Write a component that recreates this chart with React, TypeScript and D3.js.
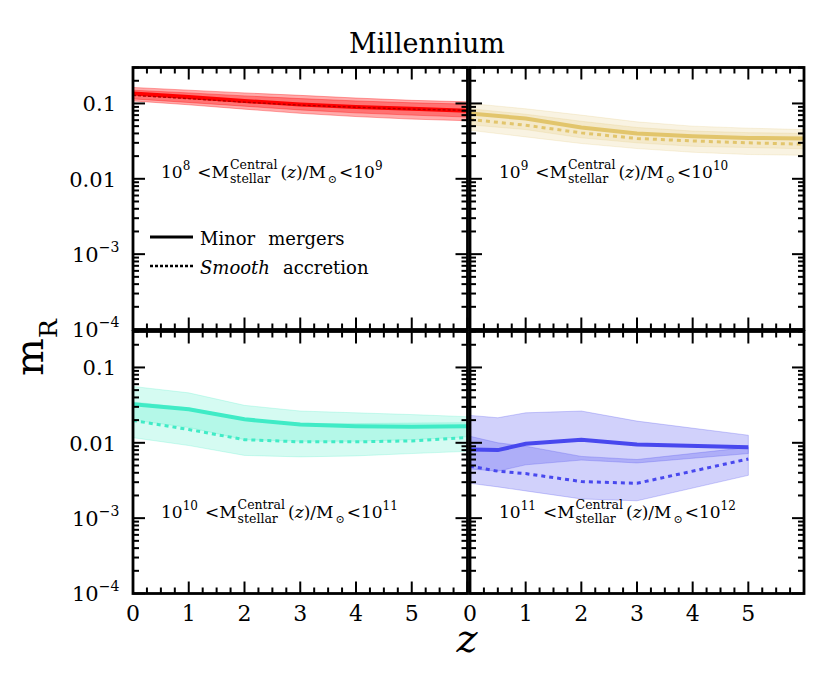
import React, { useEffect, useRef } from 'react';
import * as d3 from 'd3';

// redshift nodes
const zSteps = [0, 1, 2, 3, 4, 5, 6];
const zBlue = [0, 0.5, 1, 2, 3, 5];

// 10^8 - 10^9 (red)
const redMinor = [0.136, 0.122, 0.108, 0.097, 0.09, 0.085, 0.08];
const redSmooth = [0.128, 0.116, 0.104, 0.095, 0.089, 0.084, 0.081];
const redMinorHi = [0.163, 0.15, 0.138, 0.128, 0.118, 0.11, 0.105];
const redMinorLo = [0.115, 0.103, 0.092, 0.082, 0.075, 0.07, 0.066];
const redSmoothHi = [0.15, 0.138, 0.126, 0.116, 0.108, 0.102, 0.098];
const redSmoothLo = [0.108, 0.096, 0.084, 0.074, 0.067, 0.062, 0.059];

// 10^9 - 10^10 (yellow)
const yelMinor = [0.0736, 0.0632, 0.048, 0.04, 0.0367, 0.0349, 0.0343];
const yelSmooth = [0.0613, 0.0514, 0.0407, 0.0343, 0.0318, 0.03, 0.0288];
const yelMinorHi = [0.1, 0.085, 0.07, 0.057, 0.05, 0.047, 0.045];
const yelMinorLo = [0.052, 0.045, 0.035, 0.03, 0.027, 0.026, 0.025];
const yelSmoothHi = [0.085, 0.072, 0.058, 0.048, 0.043, 0.041, 0.04];
const yelSmoothLo = [0.044, 0.036, 0.0294, 0.0252, 0.0225, 0.021, 0.0205];

// 10^10 - 10^11 (cyan)
const cyanMinor = [0.0324, 0.0278, 0.0205, 0.0175, 0.0166, 0.0163, 0.0166];
const cyanSmooth = [0.0198, 0.015, 0.011, 0.0103, 0.0103, 0.0106, 0.0118];
const cyanMinorHi = [0.056, 0.046, 0.0314, 0.0264, 0.025, 0.0237, 0.0222];
const cyanMinorLo = [0.02, 0.016, 0.011, 0.0105, 0.0105, 0.011, 0.012];
const cyanSmoothHi = [0.0348, 0.029, 0.0209, 0.018, 0.018, 0.0183, 0.0185];
const cyanSmoothLo = [0.0117, 0.0092, 0.0068, 0.0065, 0.0067, 0.0072, 0.0077];

// 10^11 - 10^12 (blue)
const blueMinor = [0.00815, 0.008, 0.0097, 0.011, 0.0095, 0.0087];
const blueSmooth = [0.0049, 0.0042, 0.0039, 0.00306, 0.0029, 0.0061];
const blueMinorHi = [0.0231, 0.0215, 0.025, 0.0264, 0.0194, 0.0126];
const blueMinorLo = [0.0045, 0.0042, 0.0051, 0.0059, 0.0054, 0.0072];
const blueSmoothHi = [0.0122, 0.01, 0.009, 0.0066, 0.006, 0.0087];
const blueSmoothLo = [0.0029, 0.0026, 0.0023, 0.0018, 0.0017, 0.0037];

const massExps = [['8', '9'], ['9', '10'], ['10', '11'], ['11', '12']];
const xTickValues = [0, 1, 2, 3, 4, 5];
const yTickValues = [0.1, 0.01, 1e-3, 1e-4];
const yTickText = ['0.1', '0.01', '10', '10'];
const yTickExp = ['', '', '−3', '−4'];

const FONT = "'DejaVu Serif', 'Liberation Serif', serif";

type Piece = { t: string; size: number; dy?: number; italic?: boolean; gap?: number; stack?: boolean };

function richText(g: any, x: number, y: number, pieces: Piece[]) {
    let cx = x;
    let stackX: number | null = null;
    let stackW = 0;
    pieces.forEach(p => {
        const px = stackX !== null ? stackX : cx + (p.gap || 0);
        const node = g.append('text')
            .attr('x', px)
            .attr('y', y + (p.dy || 0))
            .style('font-family', FONT)
            .style('font-size', `${p.size}px`)
            .style('font-style', p.italic ? 'italic' : 'normal')
            .text(p.t);
        const w = (node.node() as SVGTextElement).getComputedTextLength();
        if (p.stack) {
            stackX = px;
            stackW = w;
        } else if (stackX !== null) {
            cx = stackX + Math.max(w, stackW);
            stackX = null;
        } else {
            cx = px + w;
        }
    });
}

const App: React.FC = () => {
    const svgRef = useRef<SVGSVGElement>(null);

    useEffect(() => {
        document.body.style.margin = '0';
        const svg = d3.select(svgRef.current);
        svg.selectAll('*').remove();
        svg.attr('width', 830).attr('height', 675)
            .style('background', '#fff')
            .style('display', 'block')
            .style('font-family', FONT);

        const cols = [[133, 467.5], [470, 804]];
        const rows = [[67.5, 329.5], [331.5, 593.5]];

        const panels = [
            { col: 0, row: 0, z: zSteps, minor: redMinor, smooth: redSmooth, mHi: redMinorHi, mLo: redMinorLo, sHi: redSmoothHi, sLo: redSmoothLo,
              color: '#ff0000', dashColor: '#b00000', bandOp: 0.33, dashW: 1.4, dash: '3,2', exps: massExps[0], lx: 161, ly: 177.5 },
            { col: 1, row: 0, z: zSteps, minor: yelMinor, smooth: yelSmooth, mHi: yelMinorHi, mLo: yelMinorLo, sHi: yelSmoothHi, sLo: yelSmoothLo,
              color: '#e2c56c', dashColor: '#e2c56c', bandOp: 0.2, dashW: 3, dash: '4,4', exps: massExps[1], lx: 499, ly: 178 },
            { col: 0, row: 1, z: zSteps, minor: cyanMinor, smooth: cyanSmooth, mHi: cyanMinorHi, mLo: cyanMinorLo, sHi: cyanSmoothHi, sLo: cyanSmoothLo,
              color: '#40ebc6', dashColor: '#40ebc6', bandOp: 0.22, dashW: 3, dash: '4,4', exps: massExps[2], lx: 161, ly: 518 },
            { col: 1, row: 1, z: zBlue, minor: blueMinor, smooth: blueSmooth, mHi: blueMinorHi, mLo: blueMinorLo, sHi: blueSmoothHi, sLo: blueSmoothLo,
              color: '#4848ee', dashColor: '#4848ee', bandOp: 0.25, dashW: 3, dash: '4,4', exps: massExps[3], lx: 499, ly: 518 },
        ];

        panels.forEach((p, pi) => {
            const [x0, x1] = cols[p.col];
            const [y0, y1] = rows[p.row];
            const x = d3.scaleLinear().domain([0, 6]).range([x0, x1]);
            const y = d3.scaleLog().domain([1e-4, 0.3]).range([y1, y0]);

            const clipId = `clip${pi}`;
            svg.append('clipPath').attr('id', clipId)
                .append('rect').attr('x', x0).attr('y', y0).attr('width', x1 - x0).attr('height', y1 - y0);
            const g = svg.append('g').attr('clip-path', `url(#${clipId})`);

            const band = (hi: number[], lo: number[]) => d3.area<number>()
                .x((_, i) => x(p.z[i]))
                .y0((_, i) => y(lo[i]))
                .y1((_, i) => y(hi[i]));
            const line = d3.line<number>()
                .x((_, i) => x(p.z[i]))
                .y(d => y(d));

            g.append('path').attr('d', band(p.mHi, p.mLo)(p.z))
                .attr('fill', p.color).attr('fill-opacity', p.bandOp)
                .attr('stroke', p.color).attr('stroke-opacity', p.bandOp).attr('stroke-width', 1);
            g.append('path').attr('d', band(p.sHi, p.sLo)(p.z))
                .attr('fill', p.color).attr('fill-opacity', p.bandOp)
                .attr('stroke', p.color).attr('stroke-opacity', p.bandOp).attr('stroke-width', 1);
            g.append('path').datum(p.minor).attr('d', line)
                .attr('fill', 'none').attr('stroke', p.color).attr('stroke-width', 4);
            g.append('path').datum(p.smooth).attr('d', line)
                .attr('fill', 'none').attr('stroke', p.dashColor).attr('stroke-width', p.dashW)
                .attr('stroke-dasharray', p.dash);

            // ticks, inward on all sides
            const ax = svg.append('g').attr('stroke', '#000').attr('stroke-width', 2);
            d3.range(0, 6.001, 0.25).forEach(v => {
                const major = Math.abs(v - Math.round(v)) < 1e-6;
                const len = major ? 12 : 6;
                ax.append('line').attr('x1', x(v)).attr('x2', x(v)).attr('y1', y1).attr('y2', y1 - len);
                ax.append('line').attr('x1', x(v)).attr('x2', x(v)).attr('y1', y0).attr('y2', y0 + len);
            });
            [1e-4, 1e-3, 1e-2, 1e-1].forEach(dec => {
                for (let k = 1; k <= 9; k++) {
                    const v = dec * k;
                    if (v > 0.3 + 1e-9) continue;
                    const len = k === 1 ? 12 : 6;
                    ax.append('line').attr('x1', x0).attr('x2', x0 + len).attr('y1', y(v)).attr('y2', y(v));
                    ax.append('line').attr('x1', x1).attr('x2', x1 - len).attr('y1', y(v)).attr('y2', y(v));
                }
            });

            svg.append('rect').attr('x', x0).attr('y', y0).attr('width', x1 - x0).attr('height', y1 - y0)
                .attr('fill', 'none').attr('stroke', '#000').attr('stroke-width', 2.8);

            // y tick labels on left column
            if (p.col === 0) {
                yTickValues.forEach((v, i) => {
                    if (yTickExp[i]) {
                        richText(svg.append('g'), 72, y(v) + 7.5, [
                            { t: yTickText[i], size: 21 },
                            { t: yTickExp[i], size: 14, dy: -10 },
                        ]);
                    } else {
                        svg.append('text').attr('x', 116).attr('y', y(v) + 8)
                            .attr('text-anchor', 'end').style('font-size', '21px').text(yTickText[i]);
                    }
                });
            }
            // x tick labels on bottom row
            if (p.row === 1) {
                xTickValues.forEach(v => {
                    svg.append('text').attr('x', x(v)).attr('y', 621)
                        .attr('text-anchor', 'middle').style('font-size', '22px').text(String(v));
                });
            }

            // mass bin label
            richText(svg.append('g'), p.lx, p.ly, [
                { t: '10', size: 17 },
                { t: p.exps[0], size: 12, dy: -8 },
                { t: '<M', size: 17, gap: 7 },
                { t: 'Central', size: 12.5, dy: -9, gap: 1, stack: true },
                { t: 'stellar', size: 12.5, dy: 5 },
                { t: '(', size: 17, gap: 3 },
                { t: 'z', size: 17, italic: true },
                { t: ')/M', size: 17 },
                { t: '⊙', size: 11, dy: 5, gap: 2 },
                { t: '<10', size: 17, gap: 2 },
                { t: p.exps[1], size: 12, dy: -8 },
            ]);
        });

        // legend
        const leg = svg.append('g');
        leg.append('line').attr('x1', 150).attr('x2', 193).attr('y1', 237).attr('y2', 237)
            .attr('stroke', '#000').attr('stroke-width', 3);
        leg.append('line').attr('x1', 150).attr('x2', 193).attr('y1', 266).attr('y2', 266)
            .attr('stroke', '#000').attr('stroke-width', 2.5).attr('stroke-dasharray', '3,2');
        richText(leg, 200, 245, [
            { t: 'Minor', size: 18 },
            { t: 'mergers', size: 18, gap: 13 },
        ]);
        richText(leg, 200, 274, [
            { t: 'Smooth', size: 18, italic: true },
            { t: 'accretion', size: 18, gap: 13 },
        ]);

        // titles
        svg.append('text').attr('x', 427).attr('y', 53).attr('text-anchor', 'middle')
            .style('font-size', '27px').text('Millennium');
        svg.append('text').attr('x', 467).attr('y', 652).attr('text-anchor', 'middle')
            .style('font-size', '40px').style('font-style', 'italic').text('z');
        const yl = svg.append('g').attr('transform', 'translate(43,376) rotate(-90)');
        richText(yl, 0, 0, [
            { t: 'm', size: 40 },
            { t: 'R', size: 25, dy: 14 },
        ]);
    }, []);

    return <svg ref={svgRef}></svg>;
};

export default App;
